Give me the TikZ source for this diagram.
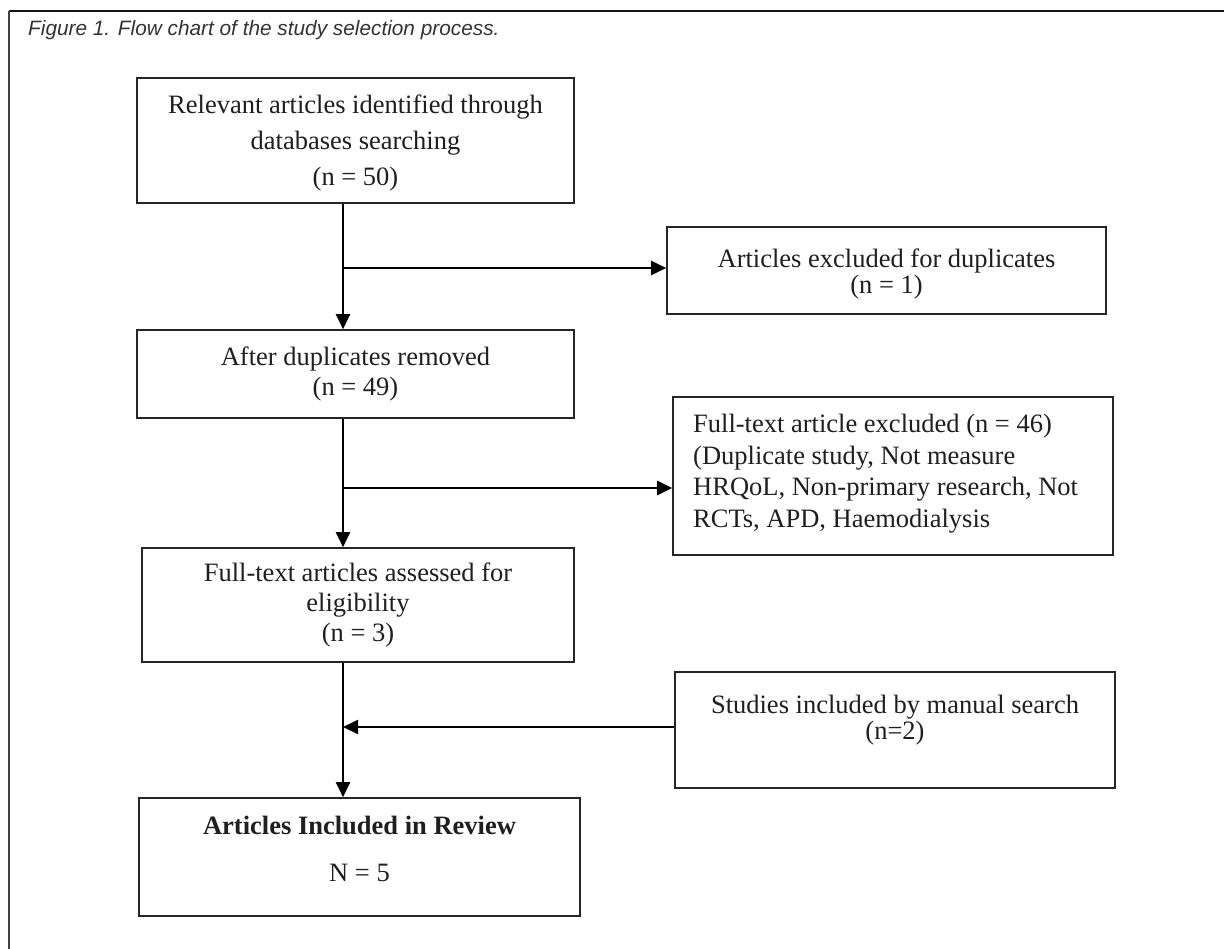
\documentclass[tikz,border=0pt]{standalone}
\usepackage{fontspec}
\setmainfont{Liberation Serif}
\newfontfamily\capfont{Liberation Sans}
\usetikzlibrary{arrows.meta}
\begin{document}
\begin{tikzpicture}[x=1pt,y=-1pt,
  box/.style={draw=black!85, line width=1.6pt, rectangle, inner sep=0pt, align=center, text=black!88,
              font=\fontsize{26.5}{30}\selectfont},
  txt/.style={inner sep=0pt, align=center, text=black!88, font=\fontsize{26.5}{30}\selectfont},
  conn/.style={line width=2pt, draw=black, -{Triangle[length=15pt,width=14pt]}}]
\useasboundingbox (0,0) rectangle (1224,949);
\fill[white] (0,0) rectangle (1224,949);
% frame
\draw[line width=2.2pt, black!92] (9,11) -- (1224,11);
\draw[line width=1.6pt, black!75] (9,11) -- (9,949);
% caption
\node[anchor=west, inner sep=0pt, text=black!80, font=\capfont\itshape\fontsize{20.8}{24}\selectfont] (cap) at (28,30)
  {Figure 1. Flow chart of the study selection process.};
% boxes
\node[box, minimum width=437pt, minimum height=125pt] (b1) at (355.5,140.5) {};
\node[txt, font=\fontsize{26.5}{36}\selectfont] (t1) at (355.5,143)
  {Relevant articles identified through\\databases searching\\(n = 50)};
\node[box, minimum width=439pt, minimum height=87pt] (b2) at (886.5,270.5) {};
\node[txt, anchor=base] (t2a) at (886.5,268) {Articles excluded for duplicates};
\node[txt, anchor=base] (t2b) at (886.5,294) {(n = 1)};
\node[box, minimum width=437pt, minimum height=88pt] (b3) at (355.5,374)
  {After duplicates removed\\(n = 49)};
\node[box, minimum width=440pt, minimum height=158pt] (b4) at (893,476) {};
\node[txt, anchor=north west, align=left, font=\fontsize{26.5}{31.5}\selectfont] (t4) at (693,414)
  {Full-text article excluded (n = 46)\\(Duplicate study, Not measure\\HRQoL, Non-primary research, Not\\RCTs, APD, Haemodialysis};
\node[box, minimum width=432pt, minimum height=114pt] (b5) at (358,605)
  {Full-text articles assessed for\\eligibility\\(n = 3)};
\node[box, minimum width=440pt, minimum height=116pt] (b6) at (895,730) {};
\node[txt, anchor=base] (t6a) at (895,713) {Studies included by manual search};
\node[txt, anchor=base] (t6b) at (895,739) {(n=2)};
\node[box, minimum width=441pt, minimum height=118pt] (b7) at (359.5,857) {};
\node[txt, anchor=base, font=\bfseries\fontsize{26.5}{30}\selectfont] (t7a) at (359.5,834) {Articles Included in Review};
\node[txt, anchor=base] (t7b) at (359.5,881) {N = 5};
% connectors
\coordinate (j1) at (343,268);
\coordinate (j2) at (343,488);
\coordinate (j3) at (343,727);
\draw[conn] (j1 |- b1.south) -- (j1 |- b3.north);
\draw[conn] (j1) -- (j1 -| b2.west);
\draw[conn] (j2 |- b3.south) -- (j2 |- b5.north);
\draw[conn] (j2) -- (j2 -| b4.west);
\draw[conn] (j3 |- b5.south) -- (j3 |- b7.north);
\draw[conn] (j3 -| b6.west) -- (j3);
\end{tikzpicture}
\end{document}
